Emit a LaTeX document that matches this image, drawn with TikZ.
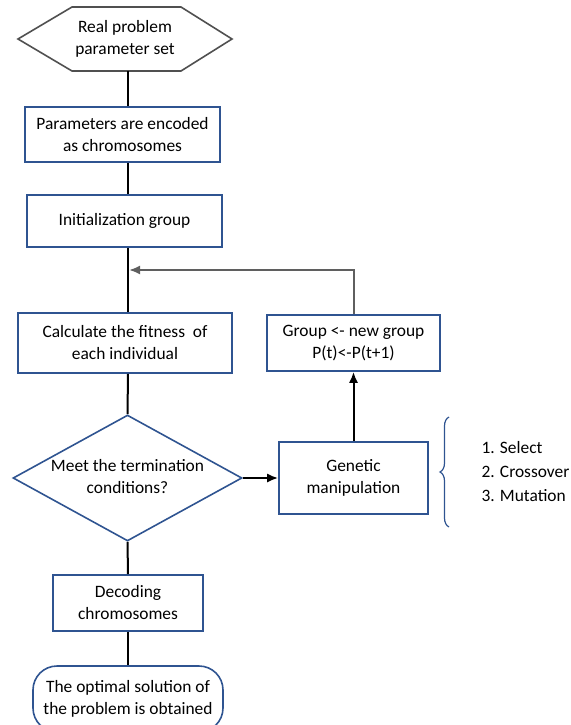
\documentclass[tikz,border=0pt]{standalone}
\usepackage{fontspec}
\setmainfont{Carlito}
\usepackage{xcolor}
\usepackage{tikz}
\usetikzlibrary{shapes.geometric, arrows, arrows.meta, positioning, calc, decorations.pathreplacing}
\definecolor{boxblue}{RGB}{47, 84, 145}
\definecolor{loopgray}{RGB}{95, 95, 95}
\definecolor{hexgray}{RGB}{80, 80, 80}

\tikzset{
    procbox/.style={rectangle, draw=boxblue, line width=1.6pt, align=center, inner sep=0pt},
    decision/.style={diamond, draw=boxblue, line width=1.6pt, inner sep=0pt},
    terminal/.style={rectangle, rounded corners=24pt, draw=boxblue, line width=1.6pt, align=center, inner sep=0pt},
    flow/.style={line width=2pt, black},
    flowarrow/.style={line width=2pt, black, -{Latex[length=11pt, width=9pt]}}
}

\begin{document}
\begin{tikzpicture}[x=1pt, y=-1pt, font=\fontsize{17.4}{22}\selectfont]
    \useasboundingbox (0,0) rectangle (570,725);

    % start: real problem parameter set
    \draw[hexgray, line width=1.6pt] (18,39) -- (72,7) -- (181,7) -- (232,39) -- (181,71) -- (72,71) -- cycle;
    \node[align=center] (start) at (125,39) {Real problem\\parameter set};
    \coordinate (startbot) at (128,71);

    \node[procbox, minimum width=195pt, minimum height=55pt] (encode) at (122.5,134.5) {Parameters are encoded\\as chromosomes};
    \node[procbox, minimum width=195pt, minimum height=52pt] (init) at (124.5,221) {Initialization group};
    \node[procbox, minimum width=214pt, minimum height=60pt] (fitness) at (125,343) {Calculate the fitness~ of\\each individual};

    \node[decision, minimum width=229pt, minimum height=126pt] (cond) at (127.5,478) {};
    \node[align=center] (condtext) at (127.5,477) {Meet the termination\\conditions?};

    \node[procbox, minimum width=149pt, minimum height=72pt] (genetic) at (353.5,478) {Genetic\\manipulation};
    \node[procbox, minimum width=173pt, minimum height=56pt] (group) at (353.5,343) {Group <- new group\\P(t)<-P(t+1)};

    \node[procbox, minimum width=150pt, minimum height=56pt] (decode) at (128,603) {Decoding\\chromosomes};
    \node[terminal, minimum width=190pt, minimum height=66pt] (optimal) at (128,699) {The optimal solution of\\the problem is obtained};

    % main line
    \coordinate (merge) at (128,270);
    \draw[flow] (startbot) -- (encode.north -| merge);
    \draw[flow] (encode.south -| merge) -- (init.north -| merge);
    \draw[flow] (init.south -| merge) -- (fitness.north -| merge);
    \draw[flow] (fitness.south -| merge) -- (cond.north);
    \draw[flow] (cond.south) -- (decode.north);
    \draw[flow] (decode.south) -- (optimal.north);

    % loop back
    \draw[flowarrow] (cond.east) -- (genetic.west);
    \draw[flowarrow] (genetic.north) -- (group.south);
    \draw[loopgray, line width=2pt, -{Latex[length=11pt, width=9pt]}] (group.north) |- ([xshift=1pt]merge);

    % operators
    \draw[boxblue, line width=1.2pt, decorate, decoration={brace, amplitude=9pt}] (449,527) -- (449,417);
    \node[align=left, anchor=west, font=\fontsize{17.4}{24}\selectfont] (ops) at (478,472) {1. Select\\2. Crossover\\3. Mutation};
\end{tikzpicture}
\end{document}
